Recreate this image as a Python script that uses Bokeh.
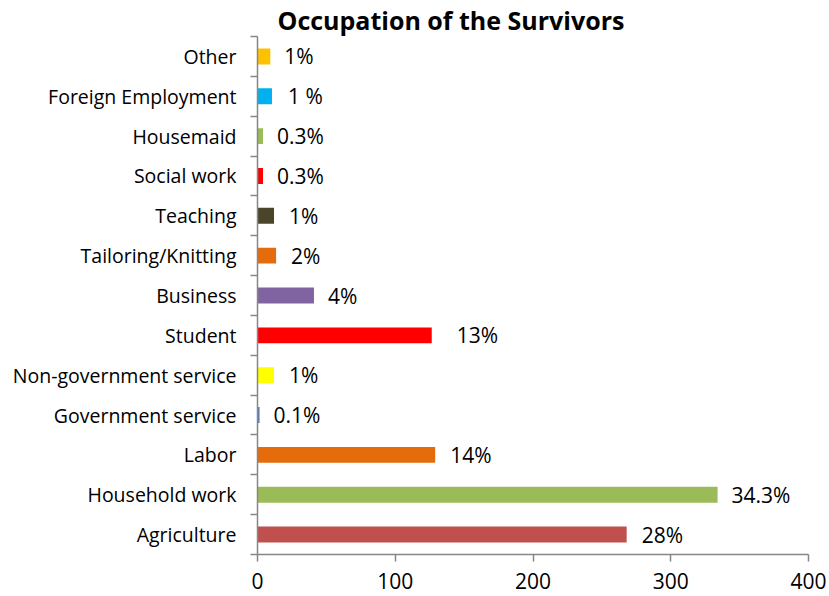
from bokeh.plotting import figure
from bokeh.models import ColumnDataSource, FixedTicker, Range1d, LabelSet
from bokeh.core.properties import value
from bokeh.embed import file_html
from bokeh.resources import INLINE

# ---- data (bottom to top) ----
categories = ["Agriculture", "Household work", "Labor", "Government service",
              "Non-government service", "Student", "Business", "Tailoring/Knitting",
              "Teaching", "Social work", "Housemaid", "Foreign Employment", "Other"]
counts = [268, 334, 129, 1.5, 12, 126.5, 41, 13.5, 12, 4, 4, 10.5, 9.3]
pct_labels = ["28%", "34.3%", "14%", "0.1%", "1%", "13%", "4%", "2%", "1%",
              "0.3%", "0.3%", "1 %", "1%"]
x_ticks = [0, 100, 200, 300, 400]

# ---- style ----
colors = ["#C0504D", "#9BBB59", "#E46C0A", "#4F81BD", "#FFFF00", "#FF0000",
          "#8064A2", "#E46C0A", "#4A452A", "#FF0000", "#9BBB59", "#00B0F0", "#FFC000"]
label_dx = [15, 14, 15, 14, 15, 25, 14, 15, 15, 14, 14, 16, 14]
FONT = "Open Sans"

pos = list(range(1, len(categories) + 1))
src = ColumnDataSource(dict(y=pos, x=counts, c=colors, lab=pct_labels, dx=label_dx))

p = figure(width=828, height=596, output_backend="svg", toolbar_location=None,
           x_range=Range1d(0, 400), y_range=Range1d(0.5, len(categories) + 0.5),
           min_border_left=257, min_border_right=20, min_border_top=12,
           min_border_bottom=42)

p.title.text = "Occupation of the Survivors"
p.title.align = "left"
p.title.offset = 20
p.title.text_font = FONT
p.title.text_font_size = "25px"
p.title.text_font_style = "bold"
p.title.text_color = "black"
p.title.standoff = 0

p.hbar(y="y", right="x", left=0, height=0.4, fill_color="c", line_color=None, source=src)

labels = LabelSet(x="x", y="y", text="lab", x_offset="dx", source=src,
                  text_font=value(FONT), text_font_size=value("21px"),
                  text_baseline="middle", text_color="black")
p.add_layout(labels)

# axes
p.xgrid.visible = False
p.ygrid.visible = False
p.outline_line_color = None

p.xaxis.ticker = FixedTicker(ticks=x_ticks)
p.yaxis.ticker = FixedTicker(ticks=pos, minor_ticks=[i + 0.5 for i in range(0, len(categories) + 1)])
p.yaxis.major_label_overrides = {i: c for i, c in zip(pos, categories)}

for ax in (p.xaxis[0], p.yaxis[0]):
    ax.axis_line_color = "#868686"
    ax.axis_line_width = 1.5
    ax.major_label_text_font = FONT
    ax.major_label_text_color = "black"

p.yaxis.major_label_text_font_size = "19.5px"
p.xaxis.major_label_text_font_size = "21px"

p.xaxis.major_tick_line_color = "#868686"
p.xaxis.major_tick_line_width = 1.5
p.xaxis.major_tick_out = 7
p.xaxis.major_tick_in = 0
p.xaxis.minor_tick_line_color = None
p.xaxis.major_label_standoff = 11

p.yaxis.major_tick_out = 0
p.yaxis.major_tick_in = 0
p.yaxis.minor_tick_line_color = "#868686"
p.yaxis.minor_tick_line_width = 1.5
p.yaxis.minor_tick_out = 7
p.yaxis.minor_tick_in = 0
p.yaxis.major_label_standoff = 14

open("out.html", "w").write(file_html(p, INLINE))
